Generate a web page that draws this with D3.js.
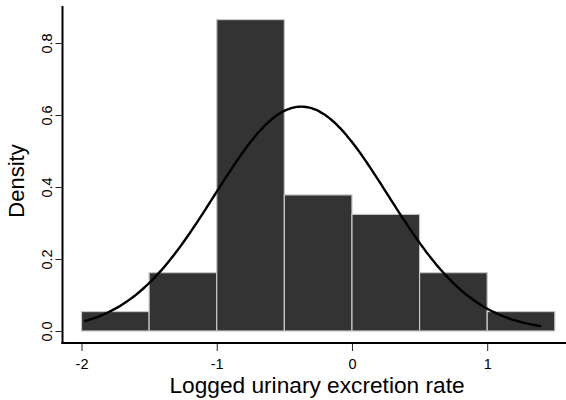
<!DOCTYPE html>
<html>
<head>
<meta charset="utf-8">
<script src="https://cdn.jsdelivr.net/npm/d3@7"></script>
<style>
  html, body { margin: 0; padding: 0; background: #fff; }
  svg { display: block; }
  text { font-family: "Liberation Sans", Arial, Helvetica, sans-serif; fill: #000; }
</style>
</head>
<body>
<svg id="chart" width="566" height="400"></svg>
<script>
// ---- data ----
const binStarts = [-2.0, -1.5, -1.0, -0.5, 0.0, 0.5, 1.0];
const binWidth = 0.5;
const densities = [0.054, 0.162, 0.865, 0.378, 0.324, 0.162, 0.054];
const xTicks = [-2, -1, 0, 1];
const yTicks = [0.0, 0.2, 0.4, 0.6, 0.8];
const normalMean = -0.375;
const normalSd = 0.64;
const curveRange = [-1.98, 1.40];
const xTitle = "Logged urinary excretion rate";
const yTitle = "Density";

// ---- layout ----
const svg = d3.select("#chart");
const x = d3.scaleLinear().domain([-2, 1]).range([81.5, 487.2]);
const y = d3.scaleLinear().domain([0, 0.8]).range([331, 43]);
const axisX = 62.5, axisY = 343;

// bars
svg.append("g").selectAll("rect")
  .data(binStarts.map((s, i) => ({ s, d: densities[i] })))
  .join("rect")
  .attr("x", d => x(d.s))
  .attr("y", d => y(d.d))
  .attr("width", d => x(d.s + binWidth) - x(d.s))
  .attr("height", d => y(0) - y(d.d))
  .attr("fill", "#333333")
  .attr("stroke", "#c8c8c8")
  .attr("stroke-width", 1.2);

// normal curve
const pdf = v => Math.exp(-0.5 * Math.pow((v - normalMean) / normalSd, 2)) / (normalSd * Math.sqrt(2 * Math.PI));
const curvePts = d3.range(0, 201).map(i => {
  const v = curveRange[0] + (curveRange[1] - curveRange[0]) * i / 200;
  return [v, pdf(v)];
});
svg.append("path")
  .datum(curvePts)
  .attr("fill", "none")
  .attr("stroke", "#000")
  .attr("stroke-width", 2.4)
  .attr("d", d3.line().x(d => x(d[0])).y(d => y(d[1])).curve(d3.curveBasis));

// axes lines
svg.append("line").attr("x1", axisX).attr("x2", axisX).attr("y1", 6).attr("y2", axisY + 1)
  .attr("stroke", "#000").attr("stroke-width", 2);
svg.append("line").attr("x1", axisX - 1).attr("x2", 566).attr("y1", axisY).attr("y2", axisY)
  .attr("stroke", "#000").attr("stroke-width", 2);

// x axis ticks
const gx = svg.append("g").attr("transform", `translate(0,${axisY + 1})`)
  .call(d3.axisBottom(x).tickValues(xTicks).tickSize(7).tickFormat(d3.format("d")));
gx.select(".domain").remove();
gx.selectAll(".tick line").attr("stroke", "#222").attr("stroke-width", 1);
gx.selectAll(".tick text").attr("font-size", 14.5).attr("font-family", "Liberation Sans, Arial, sans-serif")
  .attr("y", 25).attr("dy", null)
  .text(d => d < 0 ? "-" + Math.abs(d) : String(d));

// y axis ticks
const gy = svg.append("g").attr("transform", `translate(${axisX - 1},0)`)
  .call(d3.axisLeft(y).tickValues(yTicks).tickSize(6).tickFormat(d3.format(".1f")));
gy.select(".domain").remove();
gy.selectAll(".tick line").attr("stroke", "#222").attr("stroke-width", 1);
gy.selectAll(".tick text")
  .attr("font-size", 14.5).attr("font-family", "Liberation Sans, Arial, sans-serif")
  .attr("x", null).attr("dy", null)
  .attr("text-anchor", "middle")
  .attr("transform", "translate(-10,0) rotate(-90)");

// titles
svg.append("text")
  .attr("x", 317).attr("y", 393)
  .attr("text-anchor", "middle")
  .attr("font-size", 22.7)
  .text(xTitle);
svg.append("text")
  .attr("transform", "translate(24,181) rotate(-90)")
  .attr("text-anchor", "middle")
  .attr("font-size", 22)
  .text(yTitle);
</script>
</body>
</html>
